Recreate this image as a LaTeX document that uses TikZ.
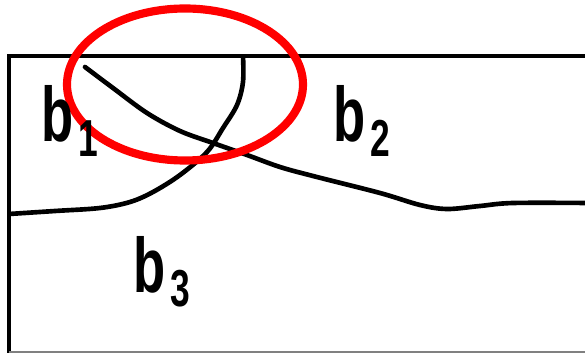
\documentclass[tikz,border=0pt]{standalone}
\usepackage{fontspec}
\newfontfamily\lblfont[FakeStretch=0.68]{Liberation Sans}
\newcommand\subdigit[1]{\kern0.07em\raisebox{-0.19em}{\fontsize{37}{37}\selectfont #1}}

\begin{document}
\begin{tikzpicture}[
    x=0.025cm, y=-0.025cm,
    boundary/.style={black, line width=3.3pt, line cap=round, line join=round},
    frame/.style={black, line width=2.4pt},
    mark ring/.style={red, line width=5.8pt},
    regionlabel/.style={anchor=base west, inner sep=0pt, font=\lblfont\bfseries\fontsize{55}{60}\selectfont}
]

% Frame of the picture
\useasboundingbox (0,0) rectangle (585,353);
\clip (0,0) rectangle (585,353);

% Box, open to the right and below
\draw[frame] (9,353) -- (9,56) -- (590,56);
\draw[black!50, line width=1pt] (9,352) -- (590,352);

% Boundary running down to the right
\draw[boundary] plot[smooth, tension=0.55] coordinates {
  (85,67) (113,88) (147,113) (180,131) (213,143) (247,155) (280,167)
  (313,176) (380,193) (420,205) (447,209) (480,206) (513,203) (590,203)};

% Boundary from the top edge to the left side
\draw[boundary, line cap=butt] plot[smooth, tension=0.55] coordinates {
  (243,56) (243,82) (237,105) (223,128) (207,152) (180,175)
  (153,192) (130,202) (100,208) (55,211) (9,214)};

% Marked crossing
\coordinate (ring) at (185,84.5);
\draw[mark ring] (ring) ellipse [x radius=118, y radius=76];

% Region labels
\node[regionlabel] (b1) at (41,142) {b\subdigit{1}};
\node[regionlabel] (b2) at (333,142) {b\subdigit{2}};
\node[regionlabel] (b3) at (133,292) {b\subdigit{3}};

\end{tikzpicture}
\end{document}
